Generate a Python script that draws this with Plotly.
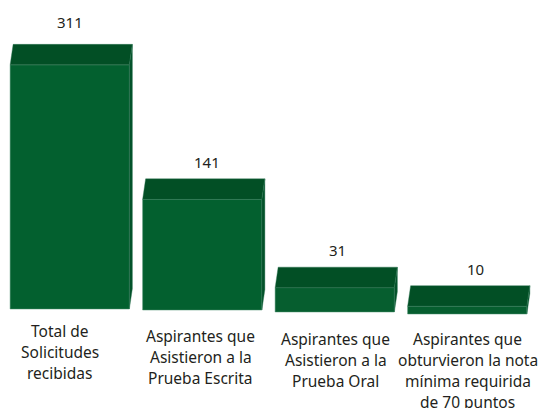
import plotly.graph_objects as go

categories = [
    "Total de<br>Solicitudes<br>recibidas",
    "Aspirantes que<br>Asistieron a la<br>Prueba Escrita",
    "Aspirantes que<br>Asistieron a la<br>Prueba Oral",
    "Aspirantes que<br>obturvieron la nota<br>mínima requirida<br>de 70 puntos",
]
values = [311, 141, 31, 10]
floor_drop = [0, -1.3, -3.8, -6.4]   # baseline of the drawing slopes slightly

# style / geometry
W, H = 540, 408
PX_X = 132.5        # px per category
PX_Y = 0.785        # px per unit
X0_PX = 69.75       # px of first category centre
Y0_PX = 309.0       # px of zero
BAR_W = 0.90
DX = 3 / PX_X
DY = 20.5 / PX_Y
FRONT = "#03602f"
FRONT_LOW = "#065e2f"
TOP = "#024f25"
SIDE = "#03522a"
EDGE = "#4f9070"
EDGE_SOFT = "#2c7350"
TEXT = "#231f20"
FONT = "Noto Sans"
FS = 15
FS_LABEL = 15.5
LINE_PX = 21
label_cx = [59.5, 200.5, 335.5, 467.5]
label_top = [331, 336, 339, 339]
value_cx = [70, 207, 337, 475]
value_gap = [22, 17, 17, 17]

xs = list(range(len(values)))
fig = go.Figure()

fig.add_trace(go.Bar(
    x=xs, y=values, base=floor_drop, width=BAR_W,
    marker=dict(color=[FRONT, FRONT, FRONT_LOW, FRONT_LOW], line=dict(color=EDGE, width=0.5)),
    showlegend=False, hoverinfo="skip",
))

for x, v, b in zip(xs, values, floor_drop):
    l, r = x - BAR_W / 2, x + BAR_W / 2
    t = v + b
    fig.add_trace(go.Scatter(
        x=[l, l + DX, r + DX, r, l], y=[t, t + DY, t + DY, t, t],
        mode="lines", fill="toself", fillcolor=TOP,
        line=dict(color=EDGE_SOFT, width=0.4), showlegend=False, hoverinfo="skip",
    ))
    fig.add_trace(go.Scatter(
        x=[r, r + DX, r + DX, r, r], y=[t, t + DY, b + DY, b, t],
        mode="lines", fill="toself", fillcolor=SIDE,
        line=dict(color=EDGE_SOFT, width=0.4), showlegend=False, hoverinfo="skip",
    ))

annotations = []
for i, v in enumerate(values):
    t = v + floor_drop[i]
    annotations.append(dict(
        x=value_cx[i] / W, xref="paper", y=t + DY, yref="y",
        yshift=value_gap[i], text=str(v), showarrow=False,
        xanchor="center", yanchor="middle",
        font=dict(family=FONT, size=FS, color=TEXT),
    ))
    for j, line in enumerate(categories[i].split("<br>")):
        annotations.append(dict(
            x=label_cx[i] / W, xref="paper",
            y=1 - (label_top[i] + j * LINE_PX) / H, yref="paper",
            text=line, showarrow=False, xanchor="center", yanchor="middle",
            font=dict(family=FONT, size=FS_LABEL, color=TEXT),
        ))

fig.update_layout(
    width=W, height=H, margin=dict(l=0, r=0, t=0, b=0),
    paper_bgcolor="white", plot_bgcolor="white",
    xaxis=dict(range=[-X0_PX / PX_X, (W - X0_PX) / PX_X], visible=False, fixedrange=True),
    yaxis=dict(range=[-(H - Y0_PX) / PX_Y, Y0_PX / PX_Y], visible=False, fixedrange=True),
    annotations=annotations,
)
fig.write_html(
    "out.html",
    config={"displayModeBar": False},
    post_script="document.body.style.margin='0';document.body.style.overflow='hidden';",
)
